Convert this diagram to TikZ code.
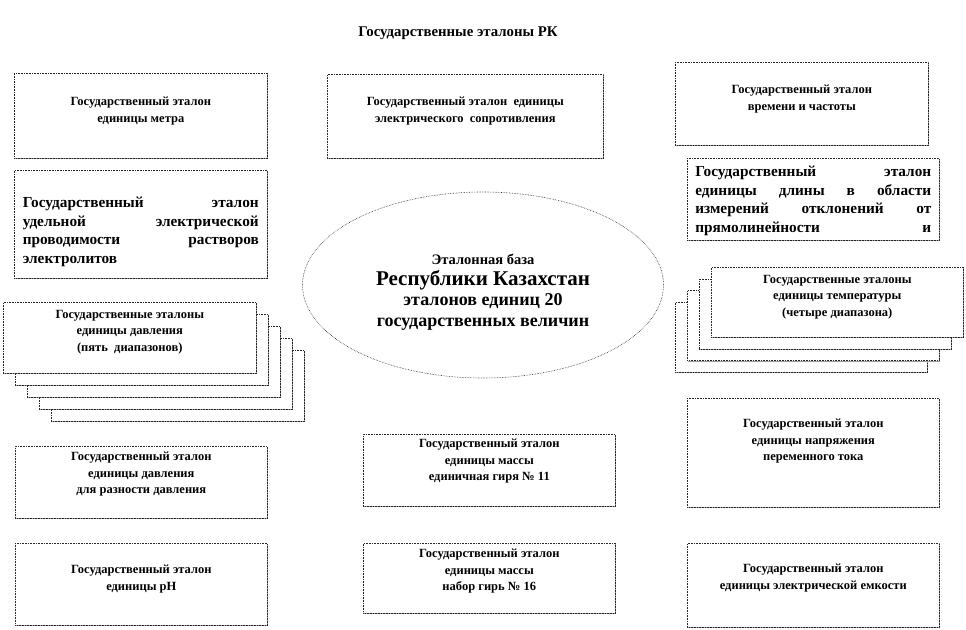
\documentclass[tikz,border=0pt]{standalone}
\usepackage{fontspec}
\setmainfont{Liberation Serif}
\usetikzlibrary{positioning,shapes.geometric,shadows}
\tikzset{
  etbox/.style={draw=black!85, densely dotted, line width=0.6pt, fill=white,
    drop shadow={shadow xshift=1pt, shadow yshift=-1pt, fill=black!40, opacity=1},
    anchor=north west, inner sep=0pt},
  ettext/.style={font=\fontsize{12.5}{16.5}\selectfont\bfseries, align=center,
    anchor=north, inner sep=0pt},
  etwide/.style={font=\fontsize{15.3}{18.5}\selectfont\bfseries, text width=236pt,
    align=left, anchor=north, inner sep=0pt}
}
\begin{document}
\begin{tikzpicture}[x=1pt, y=-1pt]
  \useasboundingbox (0,0) rectangle (966,629);
  %% title
  \node[font=\fontsize{14.8}{16}\selectfont\bfseries] (title) at (458,33) {Государственные эталоны РК};

  %% left column
  \node[etbox, minimum width=253pt, minimum height=85pt] (metre) at (14,73) {};
  \node[ettext, below=24pt of metre.north] (metre-t) {Государственный эталон\\единицы метра};
  \node[etbox, minimum width=253pt, minimum height=108pt] (conduct) at (14,170) {};
  \node[etwide, below=27pt of conduct.north] (conduct-t)
    {Государственный\hfill эталон\\удельной\hfill электрической\\проводимости\hfill растворов\\электролитов};
  %% pressure stack, back to front
  \foreach \k in {4,3,2,1}
    \node[etbox, minimum width=253pt, minimum height=71pt] (press-\k) at (3+12*\k,302+12*\k) {};
  \node[etbox, minimum width=253pt, minimum height=71pt] (press) at (3,302) {};
  \node[ettext, below=8pt of press.north] (press-t) {Государственные эталоны\\единицы давления\\(пять\ \ диапазонов)};
  \node[etbox, minimum width=252pt, minimum height=72pt] (pdiff) at (15,446) {};
  \node[ettext, below=6pt of pdiff.north] (pdiff-t) {Государственный эталон\\единицы давления\\для разности давления};
  \node[etbox, minimum width=252pt, minimum height=82pt] (ph) at (15,543) {};
  \node[ettext, below=22pt of ph.north] (ph-t) {Государственный эталон\\единицы pH};

  %% middle column
  \node[etbox, minimum width=276pt, minimum height=84pt] (resist) at (327,74) {};
  \node[ettext, below=23pt of resist.north] (resist-t) {Государственный эталон\ \ единицы\\электрического\ \ сопротивления};
  \node[draw=black!85, densely dotted, line width=0.6pt, ellipse,
    minimum width=361pt, minimum height=186pt] (base) at (483,285) {};
  \node[align=center, inner sep=0pt, font=\fontsize{18}{20.5}\selectfont\bfseries,
    below=-31pt of base.center] (base-t)
    {{\fontsize{14.5}{16}\selectfont Эталонная база}\\
     {\fontsize{21}{22}\selectfont Республики Казахстан}\\
     эталонов единиц 20\\
     государственных величин};
  \node[etbox, minimum width=252pt, minimum height=72pt] (mass) at (363,434) {};
  \node[ettext, below=5pt of mass.north] (mass-t) {Государственный эталон\\единицы массы\\единичная гиря № 11};
  \node[etbox, minimum width=252pt, minimum height=70pt] (massset) at (363,543) {};
  \node[ettext, below=6pt of massset.north] (massset-t) {Государственный эталон\\единицы массы\\набор гирь № 16};

  %% right column
  \node[etbox, minimum width=253pt, minimum height=83pt] (time) at (675,62) {};
  \node[ettext, below=23pt of time.north] (time-t) {Государственный эталон\\времени и частоты};
  \node[etbox, minimum width=252pt, minimum height=82pt] (length) at (687,158) {};
  \node[etwide, below=8pt of length.north] (length-t)
    {Государственный\hfill эталон\\единицы\hfill длины\hfill в\hfill области\\измерений\hfill отклонений\hfill от\\прямолинейности\hfill и};
  %% temperature stack, back to front
  \foreach \k in {3,2,1}
    \node[etbox, minimum width=252pt, minimum height=70pt] (temp-\k) at (711-12*\k,267+11.7*\k) {};
  \node[etbox, minimum width=252pt, minimum height=70pt] (temp) at (711,267) {};
  \node[ettext, below=8pt of temp.north] (temp-t) {Государственные эталоны\\единицы температуры\\(четыре диапазона)};
  \node[etbox, minimum width=252pt, minimum height=109pt] (acvolt) at (687,398) {};
  \node[ettext, below=21pt of acvolt.north] (acvolt-t) {Государственный эталон\\единицы напряжения\\переменного тока};
  \node[etbox, minimum width=252pt, minimum height=84pt] (capac) at (687,543) {};
  \node[ettext, below=21pt of capac.north] (capac-t) {Государственный эталон\\единицы электрической емкости};
\end{tikzpicture}
\end{document}
